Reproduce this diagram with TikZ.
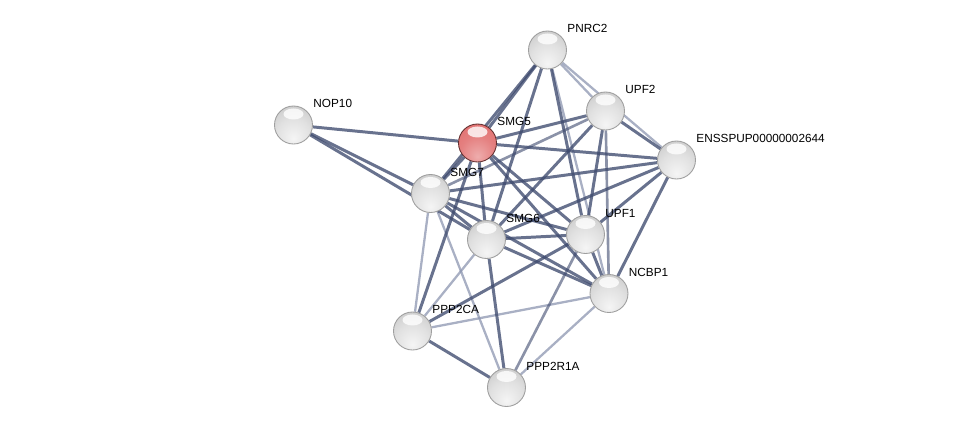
\documentclass[tikz,border=0pt]{standalone}
\usepackage{fontspec}
\setmainfont{Liberation Sans}
\usetikzlibrary{backgrounds, calc}
\definecolor{edgeblue}{HTML}{3E4A6E}
\definecolor{edgelight}{HTML}{8C95B0}
\definecolor{ballred}{HTML}{E06A6A}

\pgfdeclareradialshading{greyball}{\pgfpoint{0bp}{-18bp}}{%
  color(0bp)=(white!96!black); color(22bp)=(white!88!black); color(45bp)=(white!76!black);
  color(62bp)=(white!58!black); color(80bp)=(white!50!black)}
\pgfdeclareradialshading{redball}{\pgfpoint{0bp}{-18bp}}{%
  color(0bp)=(ballred!55!white); color(22bp)=(ballred!85!white); color(45bp)=(ballred);
  color(62bp)=(ballred!75!black); color(80bp)=(ballred!60!black)}

\tikzset{
  prot/.style={circle, minimum size=38*0.02cm, inner sep=0pt,
    draw=gray!75, line width=0.5pt, shading=greyball,
    path picture={\fill[white, opacity=0.8]
      ($(path picture bounding box.north)+(0,8)$) ellipse (10 and 5.5);}},
  query/.style={prot, draw=ballred!45!black, shading=redball},
  lbl/.style={font=\fontsize{6.7}{8}\selectfont, text=black, yshift=-1.6pt},
  dkedge/.style={edgeblue, line width=1.7pt, opacity=0.78},
  mdedge/.style={edgeblue, line width=1.5pt, opacity=0.6},
  ltedge/.style={edgelight, line width=1.3pt, opacity=0.75}
}

\begin{document}
\begin{tikzpicture}[x=0.02cm, y=-0.02cm]
  \useasboundingbox (0,0) rectangle (975,432);

  % --- proteins ---
  \node[prot,  label={[lbl]45:PNRC2}]   (pnrc2)   at (547.5, 50) {};
  \node[prot,  label={[lbl]45:UPF2}]    (upf2)    at (605.5, 111) {};
  \node[prot,  label={[lbl]45:NOP10}]   (nop10)   at (293.5, 125) {};
  \node[query, label={[lbl]45:SMG5}]    (smg5)    at (477.5, 143) {};
  \node[prot,  label={[lbl]45:ENSSPUP00000002644}] (enssp) at (676.5, 160) {};
  \node[prot,  label={[lbl]45:SMG7}]    (smg7)    at (430.5, 193.5) {};
  \node[prot,  label={[lbl]45:SMG6}]    (smg6)    at (486.5, 239.5) {};
  \node[prot,  label={[lbl]45:UPF1}]    (upf1)    at (585.5, 234.5) {};
  \node[prot,  label={[lbl]45:NCBP1}]   (ncbp1)   at (609, 293.5) {};
  \node[prot,  label={[lbl]45:PPP2CA}]  (ppp2ca)  at (412.5, 331) {};
  \node[prot,  label={[lbl]45:PPP2R1A}] (ppp2r1a) at (506.5, 387.5) {};

  % --- interactions (behind the balls) ---
  \begin{scope}[on background layer]
    \foreach \a/\b in {pnrc2/upf2, pnrc2/enssp, pnrc2/ncbp1, smg7/ppp2ca, smg7/ppp2r1a,
                       smg6/ppp2ca, ncbp1/ppp2ca, ncbp1/ppp2r1a}
      \draw[ltedge] (\a) -- (\b);
    \foreach \a/\b in {upf2/smg7, upf2/ncbp1, upf1/ppp2r1a}
      \draw[mdedge] (\a) -- (\b);
    \foreach \a/\b in {nop10/smg5, nop10/smg7, nop10/smg6,
                       pnrc2/smg5, pnrc2/smg7, pnrc2/smg6, pnrc2/upf1,
                       smg5/smg7, smg5/upf2, smg5/enssp, smg5/smg6, smg5/upf1, smg5/ncbp1, smg5/ppp2ca,
                       upf2/smg6, upf2/upf1, upf2/enssp,
                       enssp/smg7, enssp/smg6, enssp/upf1, enssp/ncbp1,
                       smg7/smg6, smg7/upf1, smg7/ncbp1,
                       smg6/upf1, smg6/ncbp1, smg6/ppp2r1a,
                       upf1/ncbp1, upf1/ppp2ca, ppp2ca/ppp2r1a}
      \draw[dkedge] (\a) -- (\b);
  \end{scope}
\end{tikzpicture}
\end{document}
